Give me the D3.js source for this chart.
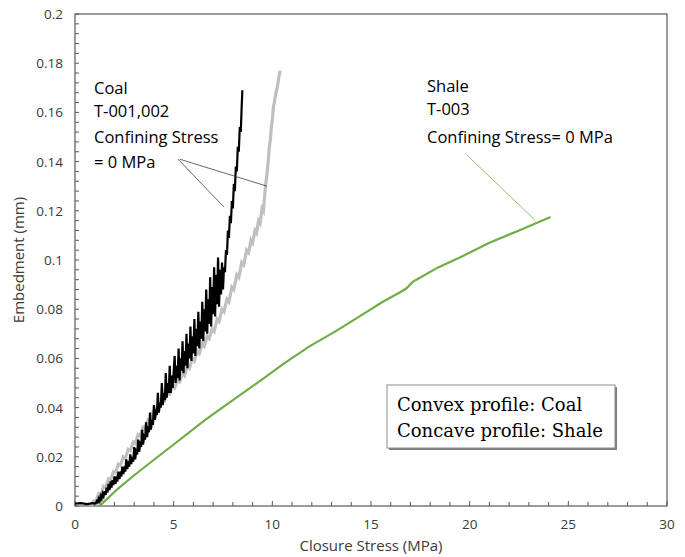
<!DOCTYPE html>
<html>
<head>
<meta charset="utf-8">
<script src="https://cdn.jsdelivr.net/npm/d3@7"></script>
<style>
  body { margin: 0; background: #fff; }
  text { font-family: "Open Sans", sans-serif; fill: #3a3a3a; }
</style>
</head>
<body>
<div id="chart"></div>
<script>
// coal T-001 (black, noisy)  [stress MPa, embedment mm]
const coalBlack = [
  [0,0.001],[0.3,0.0012],[0.6,0.0008],[0.9,0.0012],[1.05,0.001],[1.1,0.002],[1.15,0.0015],[1.2,0.003],
  [1.25,0.002],[1.3,0.004],[1.35,0.003],[1.4,0.005],[1.45,0.004],[1.5,0.006],[1.55,0.0045],[1.6,0.0075],
  [1.65,0.0055],[1.7,0.009],[1.75,0.0065],[1.8,0.010],[1.85,0.0075],[1.9,0.0105],[1.95,0.0085],[2.0,0.012],
  [2.05,0.009],[2.1,0.011],[2.15,0.010],[2.2,0.014],[2.25,0.011],[2.3,0.013],[2.35,0.012],[2.4,0.016],
  [2.45,0.013],[2.5,0.015],[2.55,0.014],[2.6,0.019],[2.65,0.015],[2.7,0.017],[2.75,0.016],[2.8,0.021],
  [2.85,0.017],[2.9,0.020],[2.95,0.018],[3.0,0.024],[3.05,0.019],[3.1,0.022],[3.15,0.021],[3.2,0.027],
  [3.25,0.022],[3.3,0.025],[3.35,0.024],[3.4,0.031],[3.45,0.025],[3.5,0.028],[3.55,0.027],[3.6,0.034],
  [3.65,0.028],[3.7,0.031],[3.75,0.030],[3.8,0.038],[3.85,0.031],[3.9,0.035],[3.95,0.033],[4.0,0.041],
  [4.05,0.035],[4.1,0.038],[4.15,0.037],[4.2,0.046],[4.25,0.038],[4.3,0.042],[4.35,0.040],[4.4,0.050],
  [4.45,0.041],[4.5,0.046],[4.55,0.043],[4.6,0.054],[4.65,0.044],[4.7,0.050],[4.75,0.046],[4.8,0.057],
  [4.85,0.046],[4.9,0.053],[4.95,0.048],[5.05,0.061],[5.1,0.050],[5.15,0.057],[5.2,0.052],[5.25,0.064],
  [5.3,0.051],[5.35,0.060],[5.4,0.055],[5.45,0.067],[5.5,0.054],[5.55,0.063],[5.6,0.057],[5.65,0.070],
  [5.7,0.056],[5.75,0.066],[5.8,0.060],[5.85,0.073],[5.9,0.059],[5.95,0.069],[6.0,0.062],[6.05,0.076],
  [6.1,0.061],[6.15,0.072],[6.2,0.065],[6.25,0.079],[6.3,0.064],[6.35,0.075],[6.4,0.068],[6.45,0.083],
  [6.5,0.067],[6.55,0.080],[6.6,0.071],[6.65,0.088],[6.7,0.070],[6.75,0.084],[6.8,0.074],[6.85,0.093],
  [6.9,0.073],[6.95,0.089],[7.0,0.078],[7.05,0.097],[7.1,0.077],[7.15,0.094],[7.2,0.082],[7.25,0.101],
  [7.3,0.081],[7.35,0.096],[7.4,0.086],[7.45,0.099],[7.5,0.088],[7.55,0.097],[7.6,0.095],[7.65,0.104],
  [7.7,0.102],[7.75,0.112],[7.8,0.109],[7.85,0.118],[7.9,0.115],[7.95,0.124],[8.0,0.121],[8.05,0.131],
  [8.1,0.128],[8.15,0.138],[8.2,0.136],[8.25,0.146],[8.3,0.144],[8.35,0.154],[8.4,0.152],[8.45,0.163],
  [8.48,0.169]
];
// coal T-002 (gray, stepped)
const coalGray = [
  [0.8,0],[0.95,0.002],[1.05,0.0018],[1.2,0.005],[1.3,0.0045],[1.45,0.008],[1.55,0.0075],[1.7,0.011],
  [1.8,0.0105],[1.95,0.014],[2.05,0.0135],[2.2,0.017],[2.3,0.0165],[2.45,0.020],[2.55,0.0195],[2.7,0.023],
  [2.8,0.0225],[2.95,0.026],[3.05,0.0255],[3.2,0.029],[3.3,0.0285],[3.45,0.032],[3.55,0.0315],[3.7,0.035],
  [3.8,0.0345],[3.95,0.038],[4.05,0.0375],[4.2,0.041],[4.3,0.0405],[4.45,0.044],[4.55,0.043],[4.7,0.046],
  [4.8,0.0455],[4.95,0.049],[5.05,0.048],[5.2,0.051],[5.3,0.0505],[5.45,0.054],[5.55,0.053],[5.7,0.057],
  [5.8,0.056],[5.95,0.060],[6.05,0.059],[6.2,0.063],[6.3,0.062],[6.45,0.066],[6.55,0.065],[6.7,0.069],
  [6.8,0.068],[6.95,0.072],[7.05,0.071],[7.2,0.076],[7.3,0.075],[7.45,0.080],[7.55,0.079],[7.7,0.084],
  [7.8,0.083],[7.95,0.089],[8.05,0.088],[8.2,0.094],[8.3,0.093],[8.45,0.099],[8.55,0.098],[8.7,0.104],
  [8.8,0.103],[8.92,0.108],[9.0,0.107],[9.12,0.112],[9.2,0.111],[9.3,0.116],[9.38,0.115],[9.48,0.121],
  [9.55,0.120],[9.65,0.130],[9.7,0.133],[9.75,0.137],[9.8,0.141],[9.85,0.146],[9.9,0.149],[9.95,0.154],
  [10.0,0.157],[10.05,0.162],[10.1,0.164],[10.18,0.168],[10.25,0.170],[10.32,0.174],[10.4,0.177]
];
// shale T-003 (green)
const shaleGreen = [
  [1.25,0],[1.6,0.0027],[2.2,0.0072],[3.0,0.0125],[4.0,0.0188],[5.0,0.025],[6.6,0.035],[8.0,0.043],
  [9.4,0.051],[10.6,0.058],[11.9,0.065],[13.2,0.071],[14.4,0.077],[15.6,0.083],[16.5,0.087],
  [16.8,0.0885],[17.1,0.091],[17.3,0.092],[18.4,0.097],[19.5,0.101],[21.0,0.107],[22.5,0.112],[24.1,0.1175]
];

const xTicks = [0, 5, 10, 15, 20, 25, 30];
const yTicks = [0, 0.02, 0.04, 0.06, 0.08, 0.1, 0.12, 0.14, 0.16, 0.18, 0.2];
const coalLabel = ["Coal", "T-001,002", "Confining Stress", "= 0 MPa"];
const shaleLabel = ["Shale", "T-003", "Confining Stress= 0 MPa"];
const boxLabel = ["Convex profile: Coal", "Concave profile: Shale"];
// leader lines, in data units
const coalLeaders = [[[5.22, 0.141], [7.55, 0.1215]], [[5.3, 0.141], [9.73, 0.130]]];
const shaleLeader = [[19.86, 0.1427], [23.3, 0.1163]];

const width = 685, height = 557;
const margin = {top: 14, right: 18, bottom: 51, left: 75};

const svg = d3.select("#chart").append("svg")
  .attr("width", width)
  .attr("height", height);

const x = d3.scaleLinear().domain([0, 30]).range([margin.left, width - margin.right]);
const y = d3.scaleLinear().domain([0, 0.2]).range([height - margin.bottom, margin.top]);

const axisCol = "#595959";

// minor ticks
const g = svg.append("g");
g.selectAll("line.ym").data(d3.range(0, 0.2001, 0.004)).enter().append("line")
  .attr("x1", x(0)).attr("x2", x(0) + 4)
  .attr("y1", d => y(d)).attr("y2", d => y(d))
  .attr("stroke", axisCol);
g.selectAll("line.xm").data(d3.range(0, 30.01, 1)).enter().append("line")
  .attr("x1", d => x(d)).attr("x2", d => x(d))
  .attr("y1", y(0)).attr("y2", d => y(0) - (d % 5 === 0 ? 5 : 4))
  .attr("stroke", axisCol);

// frame
svg.append("rect")
  .attr("x", x(0)).attr("y", y(0.2))
  .attr("width", x(30) - x(0)).attr("height", y(0) - y(0.2))
  .attr("fill", "none").attr("stroke", axisCol).attr("stroke-width", 1.2);

// tick labels
svg.selectAll("text.yt").data(yTicks).enter().append("text")
  .attr("x", x(0) - 12).attr("y", d => y(d) + 5)
  .attr("text-anchor", "end").attr("font-size", 13.5)
  .text(d => String(+d.toFixed(2)));
svg.selectAll("text.xt").data(xTicks).enter().append("text")
  .attr("x", d => x(d)).attr("y", y(0) + 23)
  .attr("text-anchor", "middle").attr("font-size", 13.5)
  .text(d => d);

// axis titles
svg.append("text")
  .attr("transform", `translate(24,${(y(0) + y(0.2)) / 2}) rotate(-90)`)
  .attr("text-anchor", "middle").attr("font-size", 15)
  .text("Embedment (mm)");
svg.append("text")
  .attr("x", (x(0) + x(30)) / 2).attr("y", 551)
  .attr("text-anchor", "middle").attr("font-size", 15)
  .text("Closure Stress (MPa)");

const line = d3.line().x(d => x(d[0])).y(d => y(d[1]));

svg.append("path").datum(shaleGreen).attr("d", line)
  .attr("fill", "none").attr("stroke", "#70ad47").attr("stroke-width", 2.2);
svg.append("path").datum(coalGray).attr("d", line)
  .attr("fill", "none").attr("stroke", "#bfbfbf").attr("stroke-width", 3.2);
svg.append("path").datum(coalBlack).attr("d", line)
  .attr("fill", "none").attr("stroke", "#000").attr("stroke-width", 2.2);

// leaders
coalLeaders.forEach(l => {
  svg.append("line")
    .attr("x1", x(l[0][0])).attr("y1", y(l[0][1]))
    .attr("x2", x(l[1][0])).attr("y2", y(l[1][1]))
    .attr("stroke", "#404040").attr("stroke-width", 0.8);
});
svg.append("line")
  .attr("x1", x(shaleLeader[0][0])).attr("y1", y(shaleLeader[0][1]))
  .attr("x2", x(shaleLeader[1][0])).attr("y2", y(shaleLeader[1][1]))
  .attr("stroke", "#8cc26a").attr("stroke-width", 1);

// annotation text
const coalBase = [94, 117, 143, 168];
svg.selectAll("text.coal").data(coalLabel).enter().append("text")
  .attr("x", 94).attr("y", (d, i) => coalBase[i])
  .attr("font-size", 16.5).style("fill", "#000")
  .text(d => d);
const shaleBase = [92, 115, 143];
svg.selectAll("text.shale").data(shaleLabel).enter().append("text")
  .attr("x", 427).attr("y", (d, i) => shaleBase[i])
  .attr("font-size", 16.5).style("fill", "#000")
  .text(d => d);

// box
svg.append("rect").attr("x", 389).attr("y", 387).attr("width", 228).attr("height", 63)
  .attr("fill", "#7f7f7f");
svg.append("rect").attr("x", 387).attr("y", 385).attr("width", 228).attr("height", 63)
  .attr("fill", "#fff").attr("stroke", "#8c8c8c").attr("stroke-width", 1);
svg.selectAll("text.box").data(boxLabel).enter().append("text")
  .attr("x", 397).attr("y", (d, i) => 411 + i * 26)
  .attr("font-size", 18)
  .style("font-family", "'DejaVu Serif', serif").style("fill", "#000")
  .text(d => d);
</script>
</body>
</html>
